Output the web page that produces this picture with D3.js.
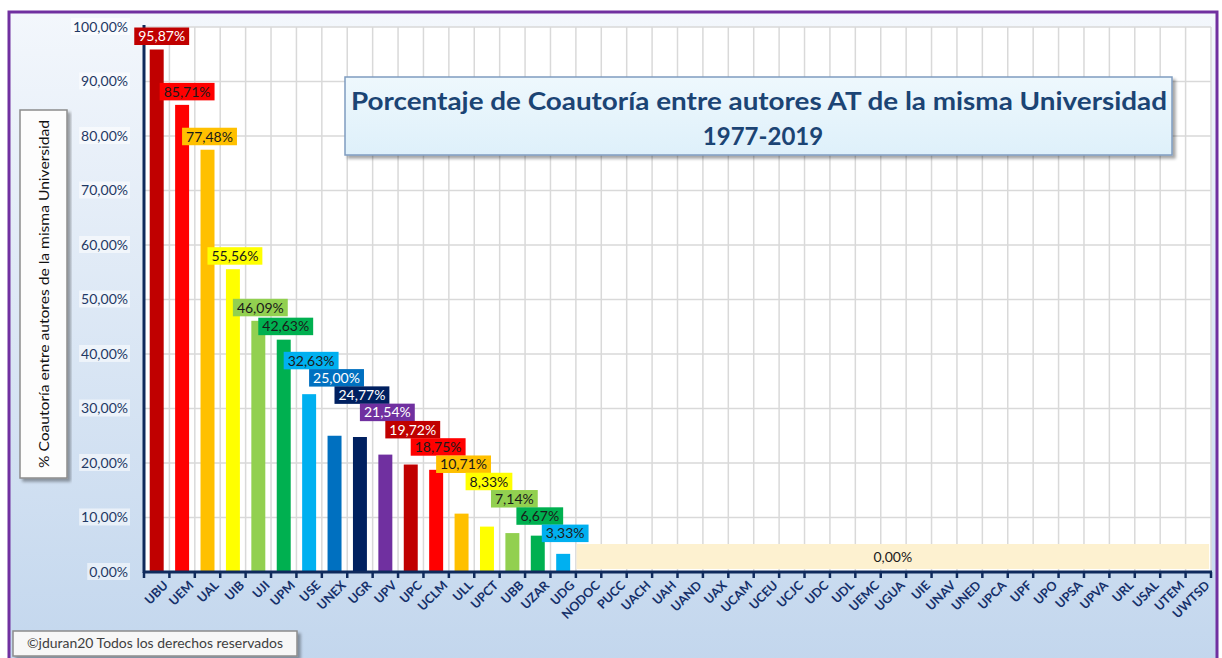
<!DOCTYPE html>
<html>

<head>
  <meta charset="utf-8">
  <title>Porcentaje de Coautoría</title>
  <style>
    body { margin: 0; background: #fff; }
    text { font-family: Lato, 'Open Sans', sans-serif; }
  </style>
</head>

<body>

  <script src="https://d3js.org/d3.v7.min.js"></script>
  <script>
    const universidades = ['UBU', 'UEM', 'UAL', 'UIB', 'UJI', 'UPM', 'USE', 'UNEX', 'UGR', 'UPV',
      'UPC', 'UCLM', 'ULL', 'UPCT', 'UBB', 'UZAR', 'UDG', 'NODOC', 'PUCC', 'UACH', 'UAH', 'UAND',
      'UAX', 'UCAM', 'UCEU', 'UCJC', 'UDC', 'UDL', 'UEMC', 'UGUA', 'UIE', 'UNAV', 'UNED', 'UPCA',
      'UPF', 'UPO', 'UPSA', 'UPVA', 'URL', 'USAL', 'UTEM', 'UWTSD'];

    const porcentajes = [95.87, 85.71, 77.48, 55.56, 46.09, 42.63, 32.63, 25.00, 24.77, 21.54,
      19.72, 18.75, 10.71, 8.33, 7.14, 6.67, 3.33, 0, 0, 0, 0, 0, 0, 0, 0, 0, 0, 0, 0, 0, 0, 0,
      0, 0, 0, 0, 0, 0, 0, 0, 0, 0];

    const yTicks = [0, 10, 20, 30, 40, 50, 60, 70, 80, 90, 100];

    // excel standard colours, repeated
    const palette = ['#C00000', '#FF0000', '#FFC000', '#FFFF00', '#92D050', '#00B050',
      '#00B0F0', '#0070C0', '#002060', '#7030A0'];
    const lightText = ['#C00000', '#0070C0', '#002060', '#7030A0'];

    const width = 1222;
    const height = 658;
    const navy = '#0f2a5c';

    const fmt = (v) => v.toFixed(2).replace('.', ',') + '%';

    const svg = d3.select('body')
      .append('svg')
      .attr('width', width)
      .attr('height', height);

    const defs = svg.append('defs');

    const bg = defs.append('linearGradient').attr('id', 'bg')
      .attr('x1', 0).attr('y1', 0).attr('x2', 0).attr('y2', 1);
    bg.append('stop').attr('offset', '0%').attr('stop-color', '#f3f7fc');
    bg.append('stop').attr('offset', '100%').attr('stop-color', '#c2d6ed');

    const tg = defs.append('linearGradient').attr('id', 'tg')
      .attr('x1', 0).attr('y1', 0).attr('x2', 0).attr('y2', 1);
    tg.append('stop').attr('offset', '0%').attr('stop-color', '#eef8fd');
    tg.append('stop').attr('offset', '100%').attr('stop-color', '#def0fa');

    const sh = defs.append('filter').attr('id', 'sh')
      .attr('x', '-5%').attr('y', '-5%').attr('width', '115%').attr('height', '130%');
    sh.append('feDropShadow').attr('dx', 3).attr('dy', 3).attr('stdDeviation', 1.5)
      .attr('flood-color', '#000').attr('flood-opacity', 0.35);

    // card
    svg.append('rect')
      .attr('x', 9).attr('y', 12)
      .attr('width', 1208).attr('height', 660)
      .attr('fill', 'url(#bg)')
      .attr('stroke', '#7030A0')
      .attr('stroke-width', 3);

    const x = d3.scaleBand()
      .domain(universidades)
      .range([144, 1211])
      .paddingInner(0.45)
      .paddingOuter(0.225);

    const y = d3.scaleLinear()
      .domain([0, 100])
      .range([572, 27]);

    // plot area
    svg.append('rect')
      .attr('x', 144).attr('y', 27)
      .attr('width', 1211 - 144).attr('height', 572 - 27)
      .attr('fill', '#fff');

    const grid = svg.append('g')
      .attr('stroke', '#d9d9d9')
      .attr('stroke-width', 1.5);

    grid.selectAll('line.h')
      .data(yTicks)
      .join('line')
      .attr('class', 'h')
      .attr('x1', 144).attr('x2', 1211)
      .attr('y1', (d) => y(d)).attr('y2', (d) => y(d));

    grid.selectAll('line.v')
      .data(universidades)
      .join('line')
      .attr('class', 'v')
      .attr('x1', (d) => x(d) - x.step() * 0.225 + x.step())
      .attr('x2', (d) => x(d) - x.step() * 0.225 + x.step())
      .attr('y1', 27).attr('y2', 572);

    // bars
    svg.append('g')
      .selectAll('rect')
      .data(universidades)
      .join('rect')
      .attr('x', (d) => x(d))
      .attr('y', (d, i) => y(porcentajes[i]))
      .attr('width', x.bandwidth())
      .attr('height', (d, i) => y(0) - y(porcentajes[i]))
      .attr('fill', (d, i) => palette[i % palette.length]);

    // y axis
    const yAxis = svg.append('g')
      .attr('transform', 'translate(144,0)')
      .call(d3.axisLeft(y).tickValues(yTicks).tickSize(0).tickPadding(16).tickFormat(fmt));
    yAxis.select('.domain').remove();
    yAxis.selectAll('text')
      .attr('fill', '#1f3864')
      .attr('font-size', 14)
      .each(function () {
        const b = this.getBBox();
        d3.select(this.parentNode).insert('rect', 'text')
          .attr('x', b.x - 2).attr('y', b.y)
          .attr('width', b.width + 4).attr('height', b.height)
          .attr('fill', '#fff').attr('opacity', 0.55);
      });

    svg.append('line')
      .attr('x1', 144).attr('x2', 144)
      .attr('y1', 25).attr('y2', 573)
      .attr('stroke', navy).attr('stroke-width', 3);

    // x axis
    svg.append('line')
      .attr('x1', 143).attr('x2', 1212)
      .attr('y1', 572).attr('y2', 572)
      .attr('stroke', navy).attr('stroke-width', 3);

    svg.append('g')
      .selectAll('line')
      .data(d3.range(universidades.length + 1))
      .join('line')
      .attr('x1', (d) => 144 + d * x.step())
      .attr('x2', (d) => 144 + d * x.step())
      .attr('y1', 572).attr('y2', 578)
      .attr('stroke', navy).attr('stroke-width', 2.5);

    svg.append('g')
      .selectAll('text')
      .data(universidades)
      .join('text')
      .attr('transform', (d) => `translate(${x(d) + x.bandwidth() / 2 + 6},${580}) rotate(-45)`)
      .attr('text-anchor', 'end')
      .attr('dy', '0.7em')
      .attr('font-size', 12.5)
      .attr('font-weight', 'bold')
      .attr('fill', '#15306a')
      .text((d) => d);

    // data labels: above bar, or on the diagonal staircase if that is higher
    const stairStart = 6;
    const stairTopPct = 40.4;
    const stairStepPct = 3.17;
    const labelH = 17.5;

    const labels = svg.append('g');
    universidades.forEach((u, i) => {
      const v = porcentajes[i];
      if (v === 0) return;
      const stairTop = y(stairTopPct - (i - stairStart) * stairStepPct);
      const top = Math.min(y(v) - 22, stairTop);
      const cx = x(u) + x.bandwidth() / 2 + (i < 2 ? 5 : 2);
      const col = palette[i % palette.length];
      const g = labels.append('g');
      const t = g.append('text')
        .attr('x', cx).attr('y', top + labelH / 2)
        .attr('dy', '0.36em')
        .attr('text-anchor', 'middle')
        .attr('font-size', 14)
        .attr('fill', lightText.includes(col) ? '#fff' : '#1a1a1a')
        .text(fmt(v));
      const w = t.node().getComputedTextLength() + 8;
      g.insert('rect', 'text')
        .attr('x', cx - w / 2).attr('y', top)
        .attr('width', w).attr('height', labelH)
        .attr('fill', col);
    });

    // one shared label for the zero bars
    const zeros = universidades.filter((d, i) => porcentajes[i] === 0);
    const zx0 = x(zeros[0]) - x.step() * 0.2;
    const zx1 = x(zeros[zeros.length - 1]) + x.bandwidth() + x.step() * 0.15;
    svg.append('rect')
      .attr('x', zx0).attr('y', 544)
      .attr('width', zx1 - zx0).attr('height', 25)
      .attr('fill', '#fdf1d0');
    svg.append('text')
      .attr('x', (zx0 + zx1) / 2).attr('y', 557)
      .attr('dy', '0.36em')
      .attr('text-anchor', 'middle')
      .attr('font-size', 14)
      .attr('fill', '#1a1a1a')
      .text(fmt(0));

    // title box
    svg.append('rect')
      .attr('x', 345).attr('y', 77)
      .attr('width', 1172 - 345).attr('height', 78)
      .attr('fill', 'url(#tg)')
      .attr('stroke', '#7f9cc0')
      .attr('stroke-width', 1.5)
      .attr('filter', 'url(#sh)');
    svg.append('text')
      .attr('x', 759).attr('y', 110)
      .attr('text-anchor', 'middle')
      .attr('font-size', 24)
      .attr('font-weight', 'bold')
      .attr('fill', '#1b4474')
      .attr('textLength', 816)
      .attr('lengthAdjust', 'spacingAndGlyphs')
      .text('Porcentaje de Coautoría entre autores AT de la misma Universidad');
    svg.append('text')
      .attr('x', 763).attr('y', 145)
      .attr('text-anchor', 'middle')
      .attr('font-size', 24)
      .attr('font-weight', 'bold')
      .attr('fill', '#1b4474')
      .text('1977-2019');

    // y axis title box
    svg.append('rect')
      .attr('x', 20).attr('y', 110)
      .attr('width', 47).attr('height', 368)
      .attr('fill', '#fdfdfd')
      .attr('stroke', '#8c8c8c')
      .attr('stroke-width', 1.5)
      .attr('filter', 'url(#sh)');
    svg.append('text')
      .attr('transform', 'translate(44,294) rotate(-90)')
      .attr('text-anchor', 'middle')
      .attr('dy', '0.35em')
      .attr('font-size', 13)
      .attr('fill', '#111')
      .attr('textLength', 348)
      .attr('lengthAdjust', 'spacingAndGlyphs')
      .text('% Coautoría entre autores de la misma Universidad');

    // copyright box
    svg.append('rect')
      .attr('x', 13).attr('y', 631)
      .attr('width', 284).attr('height', 25)
      .attr('fill', '#f7f7f7')
      .attr('stroke', '#8c8c8c')
      .attr('stroke-width', 1.5)
      .attr('filter', 'url(#sh)');
    svg.append('text')
      .attr('x', 155).attr('y', 648)
      .attr('text-anchor', 'middle')
      .attr('font-size', 14)
      .attr('fill', '#404040')
      .attr('textLength', 256)
      .attr('lengthAdjust', 'spacingAndGlyphs')
      .text('©jduran20 Todos los derechos reservados');

  </script>

</body>

</html>
